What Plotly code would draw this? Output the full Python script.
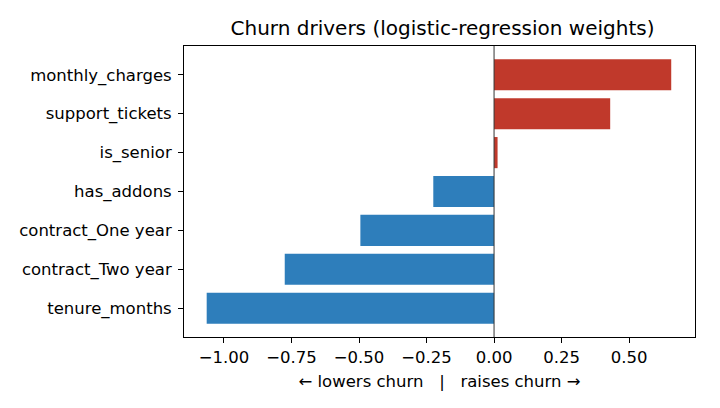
import plotly.graph_objects as go

# logistic-regression weights
features = ['tenure_months', 'contract_Two year', 'contract_One year',
            'has_addons', 'is_senior', 'support_tickets', 'monthly_charges']
weights = [-1.064, -0.775, -0.495, -0.225, 0.013, 0.430, 0.656]
tick_vals = [-1.0, -0.75, -0.5, -0.25, 0.0, 0.25, 0.5]
tick_text = ['\u22121.00', '\u22120.75', '\u22120.50', '\u22120.25', '0.00', '0.25', '0.50']

colors = ['#c0392b' if w > 0 else '#2e7ebb' for w in weights]

# the page body adds an 8px offset, so margins are shifted to compensate
OFF = 8

fig = go.Figure()
fig.add_trace(go.Bar(x=weights, y=features, orientation='h',
                     marker=dict(color=colors, line=dict(width=0)),
                     width=0.8, showlegend=False))

# zero line
fig.add_vline(x=0, line=dict(color='#333333', width=1))

axis_style = dict(showline=True, linecolor='black', linewidth=1, mirror=True,
                  ticks='outside', ticklen=5, tickcolor='black', showgrid=False,
                  zeroline=False, tickfont=dict(size=16.5, color='black'))

fig.update_xaxes(range=[-1.148, 0.744], tickvals=tick_vals, ticktext=tick_text,
                 title=dict(text='\u2190 lowers churn   |   raises churn \u2192',
                            font=dict(size=16.5, color='black'), standoff=9),
                 **axis_style)
fig.update_yaxes(range=[-0.74, 6.74], ticklabelstandoff=3, **axis_style)

fig.update_layout(
    width=720, height=408,
    margin=dict(l=184 - OFF, r=25 + OFF, t=46 - OFF, b=71 + OFF),
    plot_bgcolor='white', paper_bgcolor='white',
    font=dict(family='DejaVu Sans', color='black'),
    title=dict(text='Churn drivers (logistic-regression weights)',
               font=dict(size=20, color='black'),
               x=(442.5 - OFF) / 720, xanchor='center',
               y=1 - (28 - OFF) / 408, yanchor='middle'),
    bargap=0.2,
)

fig.write_html('out.html')
